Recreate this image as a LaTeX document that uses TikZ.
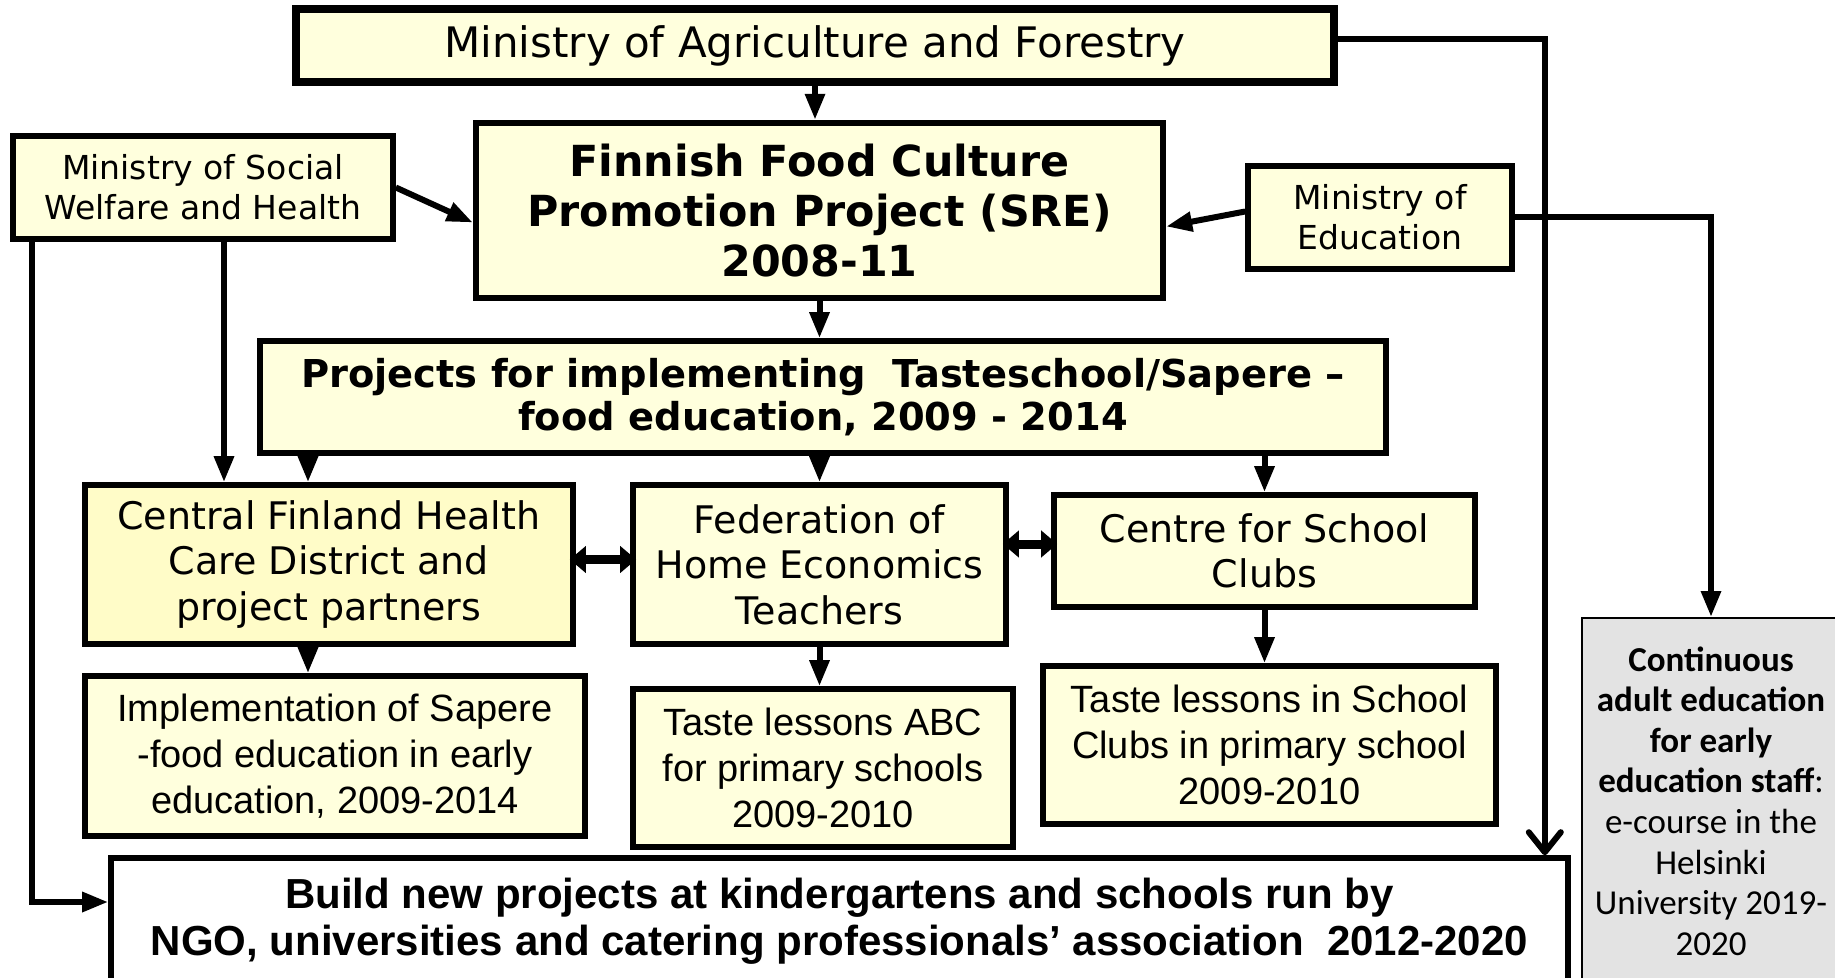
\documentclass[tikz,border=0pt]{standalone}
\usepackage{fontspec}
\usetikzlibrary{arrows.meta}

\newfontfamily\verdfont{DejaVu Sans}
\newfontfamily\arialfont{Liberation Sans}
\newfontfamily\calfont{Carlito}

\definecolor{paleyellow}{HTML}{FFFFDD}
\definecolor{deepyellow}{HTML}{FFFCC8}
\definecolor{coursegray}{HTML}{E3E3E3}

\tikzstyle{box}=[draw,line width=2.8pt,fill=paleyellow,align=center,inner sep=0pt]
\tikzstyle{verd}=[font=\verdfont\fontsize{19}{22.8}\selectfont]
\tikzstyle{ministry}=[font=\verdfont\fontsize{16.5}{19.9}\selectfont]
\tikzstyle{arial}=[font=\arialfont\fontsize{19}{23.1}\selectfont]
\tikzstyle{arr}=[line width=3pt,-{Triangle[length=13pt,width=9.5pt]}]
\tikzstyle{link}=[line width=4.5pt,shorten <=-3pt,shorten >=-3pt,
    {Triangle[length=8pt,width=13pt]}-{Triangle[length=8pt,width=13pt]}]
\tikzstyle{longarr}=[line width=3pt,-{Straight Barb[length=10pt,width=16pt,line width=3pt,round]}]

\begin{document}
\begin{tikzpicture}[x=0.5pt,y=-0.5pt]

    \useasboundingbox (0,0) rectangle (1835,978);
    \clip (0,0) rectangle (1835,978);

    % ministries and the promotion project
    \node[box,line width=4pt,minimum width=519pt,minimum height=36.5pt,
          font=\verdfont\fontsize{21}{25}\selectfont]
          (agri) at (815,45.5) {Ministry of Agriculture and Forestry};
    \node[box,line width=3.2pt,minimum width=343.5pt,minimum height=87.5pt,
          font=\verdfont\bfseries\fontsize{21.4}{25}\selectfont]
          (sre) at (819.5,210.5) {Finnish Food Culture\\Promotion Project (SRE)\\2008-11};
    \node[box,ministry,minimum width=190pt,minimum height=51.5pt]
          (social) at (203,187.5) {Ministry of Social\\Welfare and Health};
    \node[box,ministry,minimum width=132pt,minimum height=51.5pt]
          (edu) at (1380,217.5) {Ministry of\\Education};

    \node[box,minimum width=563pt,minimum height=56pt,
          font=\verdfont\bfseries\fontsize{19.2}{21.6}\selectfont]
          (proj) at (823,397) {Projects for implementing~ Tasteschool/Sapere –\\food education, 2009 - 2014};

    % partners
    \node[box,verd,fill=deepyellow,minimum width=244pt,minimum height=79.5pt]
          (cfhc) at (329,564.5) {Central Finland Health\\Care District and\\project partners};
    \node[box,verd,minimum width=186.5pt,minimum height=79.5pt]
          (fed) at (819.5,564.5) {Federation of\\Home Economics\\Teachers};
    \node[box,verd,minimum width=210.5pt,minimum height=56pt]
          (clubs) at (1264.5,551) {Centre for School\\Clubs};

    % outcomes
    \node[box,arial,minimum width=250pt,minimum height=80pt]
          (impl) at (335,756) {Implementation of Sapere\\-food education in early\\education, 2009-2014};
    \node[box,arial,minimum width=190pt,minimum height=79pt]
          (abc) at (823,768) {Taste lessons ABC\\for primary schools\\2009-2010};
    \node[box,arial,minimum width=226.5pt,minimum height=79pt]
          (lessons) at (1269.5,745) {Taste lessons in School\\Clubs in primary school\\2009-2010};

    \node[box,fill=white,minimum width=728.5pt,minimum height=63pt,
          font=\arialfont\bfseries\fontsize{21}{23.4}\selectfont]
          (build) at (839.5,921) {Build new projects at kindergartens and schools run by\\NGO, universities and catering professionals’ association~ 2012-2020};

    \node[draw,line width=1pt,fill=coursegray,align=center,inner sep=0pt,
          minimum width=129pt,minimum height=183pt,
          font=\calfont\fontsize{17.5}{20.3}\selectfont]
          (course) at (1711,801) {\textbf{Continuous}\\\textbf{adult education}\\\textbf{for early}\\\textbf{education staff}:\\e-course in the\\Helsinki\\University 2019-\\2020};

    % connectors
    \coordinate (cfx)  at (308,0);
    \coordinate (swx)  at ([xshift=10.5pt]social.south);
    \coordinate (swl)  at ([xshift=11pt]social.south west);

    \draw[arr] (agri.south) -- (agri.south |- sre.north);
    \draw[arr] (sre.south)  -- (sre.south |- proj.north);
    \draw[arr] (social.east) -- ([yshift=-6pt]sre.west);
    \draw[arr] ([yshift=3pt]edu.west) -- ([yshift=-8pt]sre.east);

    \draw[longarr] ([yshift=3pt]agri.east) -| ([xshift=-13pt]build.north east);
    \draw[arr] (edu.east) -| (course.north);

    \draw[arr] (swx) -- (swx |- cfhc.north);
    \draw[arr] (swl) |- ([yshift=9.5pt]build.west);

    \draw[arr] (proj.south -| cfx) -- (cfhc.north -| cfx);
    \draw[arr] (proj.south -| fed.north) -- (fed.north);
    \draw[arr] (proj.south -| clubs.north) -- (clubs.north);

    \draw[link] ([yshift=2.5pt]cfhc.east) -- ([yshift=2.5pt]fed.west);
    \draw[link] ([yshift=3.5pt]clubs.west -| fed.east) -- ([yshift=3.5pt]clubs.west);

    \draw[arr] (cfhc.south -| cfx) -- (impl.north -| cfx);
    \draw[arr] (fed.south) -- (fed.south |- abc.north);
    \draw[arr] (clubs.south) -- (clubs.south |- lessons.north);

\end{tikzpicture}
\end{document}
